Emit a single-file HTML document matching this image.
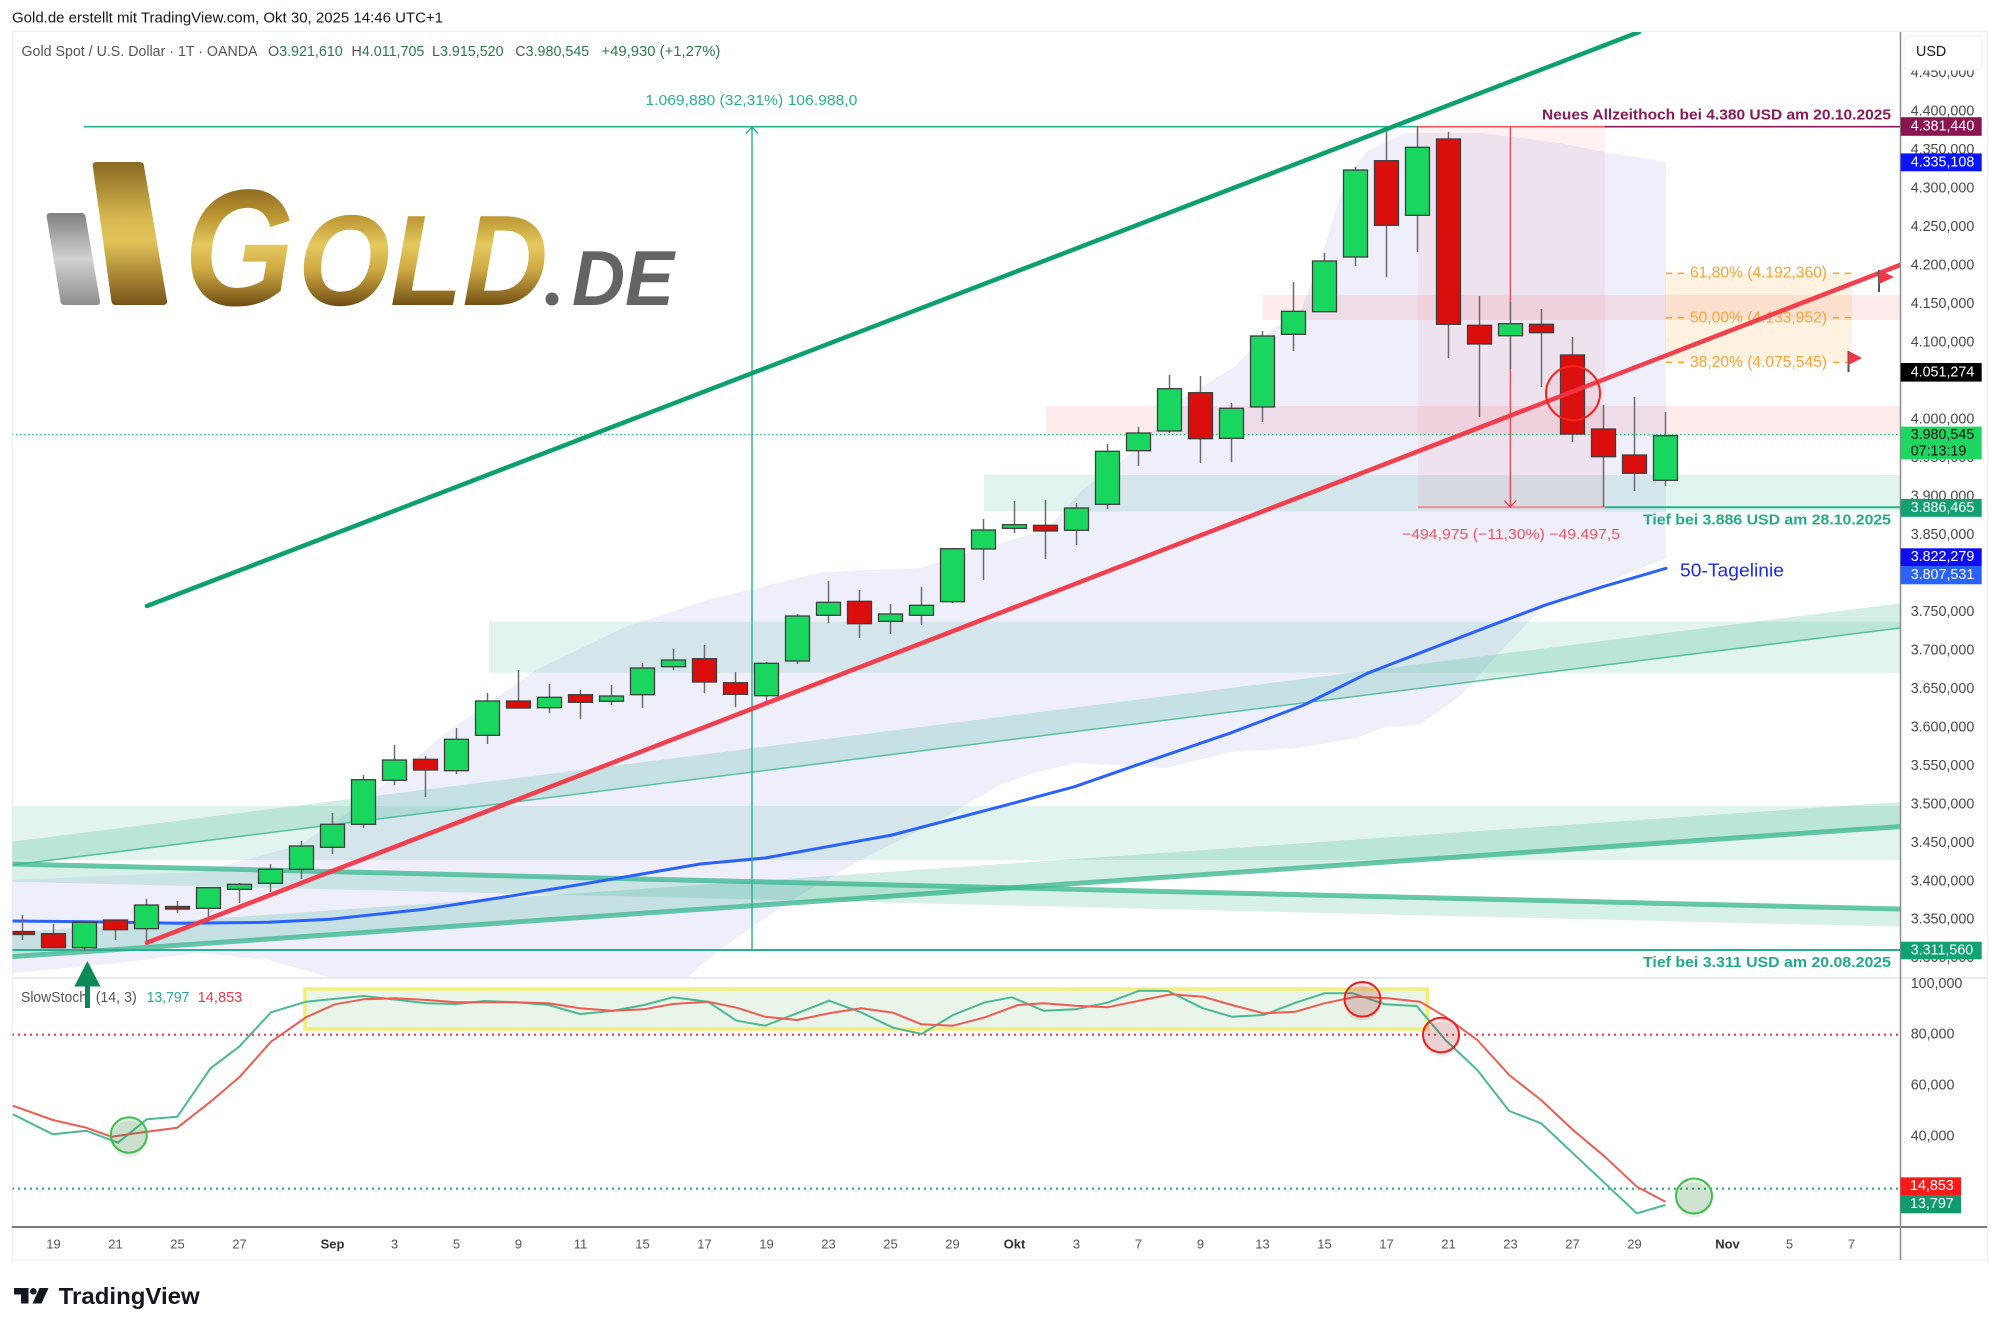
<!DOCTYPE html>
<html><head><meta charset="utf-8"><style>html,body{margin:0;padding:0;background:#fff}svg{display:block}</style></head>
<body>
<svg width="1999" height="1332" viewBox="0 0 1999 1332" xmlns="http://www.w3.org/2000/svg" font-family="'Liberation Sans', Arial, sans-serif">
<defs>
  <clipPath id="mainclip"><rect x="12.5" y="32" width="1888" height="946"/></clipPath>
  <clipPath id="stochclip"><rect x="12.5" y="978" width="1888" height="249"/></clipPath>
  <linearGradient id="gold" gradientUnits="userSpaceOnUse" x1="0" y1="183" x2="0" y2="307">
    <stop offset="0" stop-color="#86641f"/>
    <stop offset="0.25" stop-color="#b8922f"/>
    <stop offset="0.5" stop-color="#e5c95e"/>
    <stop offset="0.7" stop-color="#cfa944"/>
    <stop offset="1" stop-color="#6e4c13"/>
  </linearGradient>
  <linearGradient id="goldbar" gradientUnits="userSpaceOnUse" x1="0" y1="162" x2="0" y2="305">
    <stop offset="0" stop-color="#8a6a22"/>
    <stop offset="0.4" stop-color="#d8b950"/>
    <stop offset="0.55" stop-color="#e2c45a"/>
    <stop offset="1" stop-color="#785318"/>
  </linearGradient>
  <linearGradient id="graybar" gradientUnits="userSpaceOnUse" x1="0" y1="213" x2="0" y2="305">
    <stop offset="0" stop-color="#808080"/>
    <stop offset="0.5" stop-color="#d2d2d2"/>
    <stop offset="1" stop-color="#8e8e8e"/>
  </linearGradient>
</defs>

<rect width="1999" height="1332" fill="#fff"/>

<!-- header -->
<text x="12" y="18.5" font-size="14.3" fill="#131722" dominant-baseline="central" textLength="431" lengthAdjust="spacingAndGlyphs">Gold.de erstellt mit TradingView.com, Okt 30, 2025 14:46 UTC+1</text>

<!-- frame -->
<rect x="12.5" y="31.5" width="1975" height="1228.5" fill="none" stroke="#eceef2" stroke-width="1"/>

<!-- ================= MAIN PANE ================= -->
<g clip-path="url(#mainclip)">
  <!-- lavender envelope -->
  <polygon points="12,880 200,872 300,845 357,806 446,733 536,670 625,627 707,600 823,572 921,568 984,548 1046,530 1082,490 1136,450 1180,400 1234,367 1270,330 1300,313 1322,255 1345,180 1368,150 1406,133 1483,133 1559,143 1605,152 1666,162 1666,558 1600,585 1540,610 1499,653 1459,697 1419,725 1385,727 1356,738 1298,748 1230,752 1166,768 1075,763 1034,773 1000,785 940,820 870,855 800,895 740,935 701,965 680,985 357,985 268,960 201,953 100,965 12,973" fill="#6f70e8" fill-opacity="0.11"/>

  <!-- horizontal green zones -->
  <rect x="489" y="621.7" width="1411" height="51" fill="#22ab82" fill-opacity="0.13"/>
  <rect x="12" y="806" width="1888" height="54" fill="#22ab82" fill-opacity="0.13"/>
  <rect x="984" y="475" width="916" height="36.5" fill="#22ab82" fill-opacity="0.13"/>

  <!-- channel bands -->
  <polygon points="12,841.7 1900,603.5 1900,628 12,865" fill="#22ab82" fill-opacity="0.2"/>
  <line x1="12" y1="865" x2="1900" y2="628" stroke="#3dbb92" stroke-width="1.5" stroke-opacity="0.85"/>
  <polygon points="12,932.4 1900,802 1900,826.6 12,956.7" fill="#22ab82" fill-opacity="0.2"/>
  <line x1="12" y1="956.7" x2="1900" y2="826.6" stroke="#3db890" stroke-opacity="0.78" stroke-width="5"/>
  <polygon points="12,864 1900,909 1900,926.7 12,881.7" fill="#22ab82" fill-opacity="0.18"/>
  <line x1="12" y1="864" x2="1900" y2="909" stroke="#3db890" stroke-opacity="0.78" stroke-width="5"/>

  <!-- pink zones -->
  <rect x="1046" y="406" width="854" height="29.5" fill="#f23645" fill-opacity="0.1"/>
  <rect x="1262.6" y="295" width="637.4" height="25" fill="#f23645" fill-opacity="0.1"/>

  <!-- red measure box fill -->
  <rect x="1418" y="126.7" width="187" height="380.6" fill="#f23645" fill-opacity="0.07"/>

  <!-- fib box -->
  <rect x="1665.6" y="273" width="186.4" height="89.4" fill="#ff9800" fill-opacity="0.12"/>

  <!-- current price dotted line -->
  <line x1="12" y1="434.5" x2="1900" y2="434.5" stroke="#22c07a" stroke-width="1.3" stroke-dasharray="1.5 2.5"/>

  <!-- 50-day MA -->
  <polyline points="12,921 89,921.7 178.6,923.3 268,922.3 330,919.3 424,909.3 513,895.7 603,880.7 700,864 765,858 892,835 1000,806.7 1074.6,786.7 1132,766.7 1229.6,733.3 1304,705 1367.4,673.3 1419,653.3 1488,626.7 1545.4,605 1602.8,586.7 1666,568.3" fill="none" stroke="#2962ff" stroke-width="3" stroke-linejoin="round" stroke-linecap="round"/>

  <!-- measure lines -->
  <line x1="84" y1="126.7" x2="1418" y2="126.7" stroke="#27b08c" stroke-width="1.6"/>
  <line x1="752" y1="127" x2="752" y2="950" stroke="#27b08c" stroke-width="1.4"/>
  <polyline points="746,133.5 752,127.2 758,133.5" fill="none" stroke="#27b08c" stroke-width="1.4"/>
  <line x1="12" y1="950" x2="1900" y2="950" stroke="#27b08c" stroke-width="2"/>
  <line x1="1418" y1="126.7" x2="1605" y2="126.7" stroke="#f7525f" stroke-width="1.6"/>
  <line x1="1605" y1="126.7" x2="1900" y2="126.7" stroke="#8a1a55" stroke-width="1.6"/>
  <line x1="1418" y1="507.3" x2="1605" y2="507.3" stroke="#f08a90" stroke-width="2"/>
  <line x1="1605" y1="507.3" x2="1900" y2="507.3" stroke="#27b08c" stroke-width="2"/>
  <line x1="1510.3" y1="127" x2="1510.3" y2="507" stroke="#f23645" stroke-width="1.2"/>
  <polyline points="1504.3,500.5 1510.3,507 1516.3,500.5" fill="none" stroke="#f23645" stroke-width="1.2"/>

  <!-- candles: wicks -->
  <path d="M22.5 915V940 M53.5 924V948 M84.5 921V951 M115.5 920V940 M146.5 899V942 M177.5 901V913 M208.5 888V917 M239.5 883V903 M270.5 864V892 M301.5 841V879 M332.5 813V854 M363.5 775V828 M394.5 745V785 M425.5 756V797 M456.5 728V774 M487.5 693V744 M518.5 670V708 M549.5 684V713 M580.5 690V719 M611.5 685V705 M642.5 663V708 M673.5 649V670 M704.5 645V693 M735.5 672V707 M766.5 662V702 M797.5 614V664 M828.5 581V623 M859.5 590V638 M890.5 604V634 M921.5 587V625 M952.5 548V603 M983.5 519V580 M1014.5 501V533 M1045.5 500V559 M1076.5 503V545 M1107.5 444V509 M1138.5 427V466 M1169.5 375V433 M1200.5 376V463 M1231.5 403V462 M1262.5 331V422 M1293.5 282V351 M1324.5 253V312 M1355.5 167V266 M1386.5 128V277 M1417.5 127V252 M1448.5 132V358 M1479.5 296V417 M1510.5 302V369 M1541.5 309V387 M1572.5 337V442 M1603.5 405V507 M1634.5 397V491 M1665.5 412V486" stroke="#6b6b6b" stroke-width="1.5" fill="none"/>

  <!-- candles: bodies -->
  <g stroke="#3e3e3e" stroke-width="1.3">
    <g fill="#db0e0e">
      <rect x="10.5" y="931.5" width="24" height="3"/>
      <rect x="41.5" y="933.7" width="24" height="14"/>
      <rect x="103.5" y="920" width="24" height="9.7"/>
      <rect x="165.5" y="906.5" width="24" height="2.6"/>
      <rect x="413.5" y="759.3" width="24" height="10.7"/>
      <rect x="506.5" y="701" width="24" height="7"/>
      <rect x="568.5" y="694.7" width="24" height="7.6"/>
      <rect x="692.5" y="658.7" width="24" height="23.3"/>
      <rect x="723.5" y="682.7" width="24" height="11.6"/>
      <rect x="847.5" y="601.3" width="24" height="22.4"/>
      <rect x="1033.5" y="525.3" width="24" height="5.7"/>
      <rect x="1188.5" y="392.7" width="24" height="46"/>
      <rect x="1374.5" y="160.7" width="24" height="64.6"/>
      <rect x="1436.5" y="139" width="24" height="185.3"/>
      <rect x="1467.5" y="325.3" width="24" height="18.7"/>
      <rect x="1529.5" y="324.3" width="24" height="8.4"/>
      <rect x="1560.5" y="355" width="24" height="79"/>
      <rect x="1591.5" y="429" width="24" height="27.7"/>
      <rect x="1622.5" y="455" width="24" height="18.3"/>
    </g>
    <g fill="#19d65f">
      <rect x="72.5" y="922.3" width="24" height="25.4"/>
      <rect x="134.5" y="905" width="24" height="23.7"/>
      <rect x="196.5" y="887.7" width="24" height="20.6"/>
      <rect x="227.5" y="884.3" width="24" height="5"/>
      <rect x="258.5" y="869.3" width="24" height="14"/>
      <rect x="289.5" y="846" width="24" height="23.3"/>
      <rect x="320.5" y="824.3" width="24" height="23"/>
      <rect x="351.5" y="779.7" width="24" height="44.6"/>
      <rect x="382.5" y="760" width="24" height="20.3"/>
      <rect x="444.5" y="739.3" width="24" height="31.4"/>
      <rect x="475.5" y="701" width="24" height="34.3"/>
      <rect x="537.5" y="697.3" width="24" height="10.4"/>
      <rect x="599.5" y="696" width="24" height="5.3"/>
      <rect x="630.5" y="668" width="24" height="26.7"/>
      <rect x="661.5" y="660" width="24" height="6.7"/>
      <rect x="754.5" y="663.3" width="24" height="32.4"/>
      <rect x="785.5" y="616" width="24" height="45"/>
      <rect x="816.5" y="602.3" width="24" height="13"/>
      <rect x="878.5" y="614" width="24" height="7.3"/>
      <rect x="909.5" y="605.3" width="24" height="10"/>
      <rect x="940.5" y="548.7" width="24" height="53"/>
      <rect x="971.5" y="530" width="24" height="19"/>
      <rect x="1002.5" y="524.7" width="24" height="3.6"/>
      <rect x="1064.5" y="508" width="24" height="22.3"/>
      <rect x="1095.5" y="451.3" width="24" height="53"/>
      <rect x="1126.5" y="433" width="24" height="17.7"/>
      <rect x="1157.5" y="388.7" width="24" height="42.3"/>
      <rect x="1219.5" y="408.3" width="24" height="30"/>
      <rect x="1250.5" y="336" width="24" height="71"/>
      <rect x="1281.5" y="311.3" width="24" height="23"/>
      <rect x="1312.5" y="261" width="24" height="50.7"/>
      <rect x="1343.5" y="170" width="24" height="87"/>
      <rect x="1405.5" y="147.3" width="24" height="68"/>
      <rect x="1498.5" y="323.7" width="24" height="12"/>
      <rect x="1653.5" y="435.7" width="24" height="44.6"/>
    </g>
  </g>

  <!-- fib lines & labels -->
  <g stroke="#ff9800" stroke-opacity="0.85" stroke-width="1.5" stroke-dasharray="6 6">
    <line x1="1666" y1="273.2" x2="1688" y2="273.2"/><line x1="1833" y1="273.2" x2="1855" y2="273.2"/>
    <line x1="1666" y1="317.8" x2="1688" y2="317.8"/><line x1="1833" y1="317.8" x2="1855" y2="317.8"/>
    <line x1="1666" y1="362.4" x2="1688" y2="362.4"/><line x1="1833" y1="362.4" x2="1855" y2="362.4"/>
  </g>
  <g font-size="16" fill="#f9a53c" dominant-baseline="central">
    <text x="1690" y="273.2" textLength="137" lengthAdjust="spacingAndGlyphs">61,80% (4.192,360)</text>
    <text x="1690" y="317.8" textLength="137" lengthAdjust="spacingAndGlyphs">50,00% (4.133,952)</text>
    <text x="1690" y="362.4" textLength="137" lengthAdjust="spacingAndGlyphs">38,20% (4.075,545)</text>
  </g>

  <!-- trend lines -->
  <line x1="146.9" y1="606" x2="1639" y2="32" stroke="#0ca06c" stroke-width="4.5" stroke-linecap="round"/>
  <line x1="146.9" y1="942.7" x2="1900" y2="265" stroke="#f23645" stroke-width="4.5" stroke-linecap="round" stroke-opacity="0.95"/>

  <!-- red circle -->
  <circle cx="1573" cy="393.3" r="27" fill="#f23645" fill-opacity="0.08" stroke="#f5221a" stroke-width="2"/>

  <!-- flags -->
  <line x1="1879" y1="270" x2="1879" y2="292" stroke="#555" stroke-width="2"/>
  <polygon points="1879,270 1894,277 1879,284" fill="#f23645"/>
  <line x1="1848.5" y1="351" x2="1848.5" y2="372" stroke="#555" stroke-width="2"/>
  <polygon points="1848.5,351 1862,358 1848.5,365" fill="#f23645"/>

  <!-- texts in main pane -->
  <text x="645.4" y="101" font-size="14.3" fill="#26b38a" dominant-baseline="central" textLength="212" lengthAdjust="spacingAndGlyphs">1.069,880 (32,31%) 106.988,0</text>
  <text x="1542" y="115" font-size="15" font-weight="bold" fill="#8a1a55" dominant-baseline="central" textLength="349" lengthAdjust="spacingAndGlyphs">Neues Allzeithoch bei 4.380 USD am 20.10.2025</text>
  <text x="1643" y="520" font-size="15" font-weight="bold" fill="#22ab88" dominant-baseline="central" textLength="248" lengthAdjust="spacingAndGlyphs">Tief bei 3.886 USD am 28.10.2025</text>
  <text x="1643" y="962.3" font-size="15" font-weight="bold" fill="#22ab88" dominant-baseline="central" textLength="248" lengthAdjust="spacingAndGlyphs">Tief bei 3.311 USD am 20.08.2025</text>
  <text x="1402" y="535" font-size="14.5" fill="#f7525f" dominant-baseline="central" textLength="218" lengthAdjust="spacingAndGlyphs">−494,975 (−11,30%) −49.497,5</text>
  <text x="1680" y="570" font-size="18.5" fill="#1f2bf0" dominant-baseline="central" textLength="104" lengthAdjust="spacingAndGlyphs">50-Tagelinie</text>

  <!-- GOLD.DE logo -->
  <path d="M50,213 L81.5,213 Q85,213 85.6,217 L100,301 Q100.5,305 96.5,305 L64.5,305 Q61,305 60.5,301 L46.7,217 Q46.3,213 50,213 Z" fill="url(#graybar)"/>
  <path d="M96.5,162 L139.5,162 Q143.5,162 144,166 L167,301 Q167.4,305 163,305 L115.5,305 Q111.8,305 111.4,301 L92.7,166 Q92.4,162 96.5,162 Z" fill="url(#goldbar)"/>
  <text x="184" y="305" font-size="166" font-weight="bold" font-style="italic" fill="url(#gold)" textLength="110" lengthAdjust="spacingAndGlyphs">G</text>
  <text x="298" y="305" font-size="129" font-weight="bold" font-style="italic" fill="url(#gold)" textLength="250" lengthAdjust="spacingAndGlyphs">OLD</text>
  <circle cx="552" cy="299" r="6.5" fill="#646464"/>
  <text x="572" y="305" font-size="78" font-weight="bold" font-style="italic" fill="#646464" textLength="102" lengthAdjust="spacingAndGlyphs">DE</text>

  <!-- legend -->
  <text y="52" font-size="14.3" dominant-baseline="central">
    <tspan x="21.5" fill="#555" textLength="236" lengthAdjust="spacingAndGlyphs">Gold Spot / U.S. Dollar · 1T · OANDA</tspan>
  </text>
  <text y="52" font-size="14.3" dominant-baseline="central"><tspan x="268" fill="#555">O</tspan><tspan fill="#2a7a4b">3.921,610</tspan></text>
  <text y="52" font-size="14.3" dominant-baseline="central"><tspan x="351.5" fill="#555">H</tspan><tspan fill="#2a7a4b">4.011,705</tspan></text>
  <text y="52" font-size="14.3" dominant-baseline="central"><tspan x="432" fill="#555">L</tspan><tspan fill="#2a7a4b">3.915,520</tspan></text>
  <text y="52" font-size="14.3" dominant-baseline="central"><tspan x="515.3" fill="#555">C</tspan><tspan fill="#2a7a4b">3.980,545</tspan></text>
  <text x="601.4" y="52" font-size="14.3" fill="#2a7a4b" dominant-baseline="central" textLength="119" lengthAdjust="spacingAndGlyphs">+49,930 (+1,27%)</text>
</g>

<!-- main pane bottom line -->
<line x1="12" y1="978" x2="1987" y2="978" stroke="#e0e3eb" stroke-width="1.5"/>

<!-- ================= STOCH PANE ================= -->
<g clip-path="url(#stochclip)">
  <rect x="305" y="989" width="1122.6" height="40" fill="#4caf50" fill-opacity="0.13" stroke="#f3ee7a" stroke-width="3.5"/>
  <line x1="12" y1="1034.7" x2="1900" y2="1034.7" stroke="#f23645" stroke-width="2.2" stroke-dasharray="2 4"/>
  <line x1="12" y1="1188.7" x2="1900" y2="1188.7" stroke="#1fb07a" stroke-width="2.2" stroke-dasharray="2 4"/>

  <polyline fill="none" stroke="#4ab894" stroke-width="2" stroke-linejoin="round" points="12.8,1114.3 52.9,1134.3 86.1,1130.7 118,1142.7 146.7,1119.3 177.3,1116.7 210.5,1068.3 239.2,1046.7 271,1012.3 306,1001.7 363.5,996 427,1003.3 456,1004 484.7,1001 516.6,1002.3 548.5,1005 580,1014 612,1011 644,1005 672.8,997.3 708,1001.7 736.6,1020.7 765,1025.7 797,1013.3 829,1000.7 861,1012.3 893,1027.7 921.6,1034 953,1015 985,1002.3 1011.8,997.3 1043.6,1010.7 1075.5,1009.3 1107.4,1002.7 1139.3,990.7 1168,991 1203,1008.3 1231.8,1016.7 1263.7,1015 1295.6,1002.7 1324.3,993.3 1353,993.3 1384.8,1004.3 1416.7,1006 1445.4,1040 1477.3,1070 1509.2,1111 1541.1,1123.3 1573,1153.3 1604.9,1183.3 1636.8,1213.3 1665.4,1205"/>
  <polyline fill="none" stroke="#f05a50" stroke-width="2" stroke-linejoin="round" points="12.8,1105.7 52.9,1120 86.1,1127.7 111.6,1136.7 146.7,1131.7 177.3,1127.7 210.5,1101.7 239.2,1077.3 271,1041.7 306,1017.3 334.8,1004.3 363.5,999.3 395.4,998.3 427,1000 456,1002.3 484.7,1002.3 516.6,1002.3 548.5,1003.3 580,1008.3 612,1010.7 644,1009.3 672.8,1004 708,1001.7 736.6,1007.7 765,1016.7 797,1020 829,1013.3 861,1008.3 893,1012.7 921.6,1024.3 953,1025.7 985,1017.3 1018,1005 1043.6,1003.3 1075.5,1005.7 1107.4,1007.3 1139.3,1000.7 1171,994.3 1203,996.7 1231.8,1005 1263.7,1013.3 1295.6,1011.7 1324.3,1003.3 1356,996.7 1388,998.3 1420,1001.7 1445.4,1016.7 1477.3,1040 1509.2,1075 1541.1,1100 1573,1130 1604.9,1156.7 1636.8,1186.7 1665.4,1201.7"/>

  <!-- circles -->
  <ellipse cx="129" cy="1139" rx="18" ry="18" fill="#000" fill-opacity="0.08"/>
  <ellipse cx="128.8" cy="1135" rx="18" ry="17.7" fill="#4caf50" fill-opacity="0.2" stroke="#3cc04a" stroke-width="2"/>
  <ellipse cx="1362.5" cy="1003" rx="18" ry="17.5" fill="#000" fill-opacity="0.08"/>
  <ellipse cx="1362.5" cy="999.3" rx="18" ry="17.3" fill="#f23645" fill-opacity="0.15" stroke="#f21d1d" stroke-width="2"/>
  <ellipse cx="1441" cy="1039" rx="18" ry="17.5" fill="#000" fill-opacity="0.08"/>
  <ellipse cx="1441" cy="1035" rx="18" ry="17.3" fill="#f23645" fill-opacity="0.15" stroke="#f21d1d" stroke-width="2"/>
  <ellipse cx="1694" cy="1200" rx="18" ry="17.5" fill="#000" fill-opacity="0.07"/>
  <ellipse cx="1694" cy="1196" rx="18" ry="17.5" fill="#4caf50" fill-opacity="0.18" stroke="#3cc04a" stroke-width="2"/>

  <!-- stoch legend -->
  <text x="21" y="998" font-size="14.3" fill="#555" dominant-baseline="central" textLength="66" lengthAdjust="spacingAndGlyphs">SlowStoch</text>
  <text x="95.7" y="998" font-size="14.3" fill="#555" dominant-baseline="central" textLength="41" lengthAdjust="spacingAndGlyphs">(14, 3)</text>
  <text x="146.7" y="998" font-size="14.3" fill="#22ab94" dominant-baseline="central" textLength="42.7" lengthAdjust="spacingAndGlyphs">13,797</text>
  <text x="197.7" y="998" font-size="14.3" fill="#f23645" dominant-baseline="central" textLength="44.6" lengthAdjust="spacingAndGlyphs">14,853</text>
</g>

<!-- green up arrow -->
<polygon points="87.4,961 100.5,986.5 74.3,986.5" fill="#0b8a57"/>
<rect x="85" y="985" width="5" height="23" fill="#0b8a57"/>

<!-- time axis separator -->
<line x1="12" y1="1227" x2="1987" y2="1227" stroke="#7b7b7b" stroke-width="2"/>

<!-- price axis separator -->
<line x1="1900.5" y1="32" x2="1900.5" y2="1260" stroke="#8c8c8c" stroke-width="1.5"/>

<!-- price axis labels -->
<g font-size="14.3" fill="#4a4a4a" dominant-baseline="central">
  <text x="1910.7" y="73.2">4.450,000</text>
  <text x="1910.7" y="111.7">4.400,000</text>
  <text x="1910.7" y="150.2">4.350,000</text>
  <text x="1910.7" y="188.6">4.300,000</text>
  <text x="1910.7" y="227.1">4.250,000</text>
  <text x="1910.7" y="265.6">4.200,000</text>
  <text x="1910.7" y="304.1">4.150,000</text>
  <text x="1910.7" y="342.5">4.100,000</text>
  <text x="1910.7" y="419.5">4.000,000</text>
  <text x="1910.7" y="458">3.950,000</text>
  <text x="1910.7" y="496.5">3.900,000</text>
  <text x="1910.7" y="535">3.850,000</text>
  <text x="1910.7" y="611.9">3.750,000</text>
  <text x="1910.7" y="650.4">3.700,000</text>
  <text x="1910.7" y="688.9">3.650,000</text>
  <text x="1910.7" y="727.3">3.600,000</text>
  <text x="1910.7" y="765.8">3.550,000</text>
  <text x="1910.7" y="804.3">3.500,000</text>
  <text x="1910.7" y="842.8">3.450,000</text>
  <text x="1910.7" y="881.3">3.400,000</text>
  <text x="1910.7" y="919.7">3.350,000</text>
  <text x="1910.7" y="958.2">3.300,000</text>
  <text x="1910.7" y="984">100,000</text>
  <text x="1910.7" y="1034.5">80,000</text>
  <text x="1910.7" y="1085.5">60,000</text>
  <text x="1910.7" y="1136.7">40,000</text>
</g>

<!-- USD box -->
<rect x="1904" y="36" width="78" height="34" rx="4" fill="#fff" stroke="#eceef2" stroke-width="1"/>
<text x="1916" y="52" font-size="14.3" fill="#131722" dominant-baseline="central">USD</text>

<!-- price label boxes -->
<rect x="1900.7" y="117.2" width="81" height="18.6" fill="#8a1450"/>
<rect x="1900.7" y="153.4" width="81" height="17.9" fill="#0a14ff"/>
<rect x="1900.7" y="363" width="81" height="18.6" fill="#000"/>
<rect x="1900.7" y="426.6" width="81" height="32.7" fill="#1ed760"/>
<rect x="1900.7" y="498.9" width="81" height="17.9" fill="#11a172"/>
<rect x="1900.7" y="548.3" width="81" height="17.7" fill="#0c0cf5"/>
<rect x="1900.7" y="566" width="81" height="18.3" fill="#2962ff"/>
<rect x="1900.7" y="941.7" width="81" height="17.6" fill="#11a172"/>
<rect x="1900.5" y="1177.3" width="60.5" height="17.7" fill="#ff1a1a"/>
<rect x="1900.5" y="1195" width="60.5" height="18.3" fill="#12996e"/>
<g font-size="14.3" fill="#fff" dominant-baseline="central">
  <text x="1910.7" y="126.5">4.381,440</text>
  <text x="1910.7" y="162.3">4.335,108</text>
  <text x="1910.7" y="372.3">4.051,274</text>
  <text x="1910.7" y="435" fill="#111">3.980,545</text>
  <text x="1910.7" y="451.5" fill="#111">07:13:19</text>
  <text x="1910.7" y="507.8">3.886,465</text>
  <text x="1910.7" y="557.1">3.822,279</text>
  <text x="1910.7" y="575.1">3.807,531</text>
  <text x="1910.7" y="950.5">3.311,560</text>
  <text x="1910" y="1186.2">14,853</text>
  <text x="1910" y="1204.2">13,797</text>
</g>

<!-- date axis labels -->
<g font-size="13" fill="#555" text-anchor="middle" dominant-baseline="central">
  <text x="53.5" y="1244">19</text>
  <text x="115.5" y="1244">21</text>
  <text x="177.5" y="1244">25</text>
  <text x="239.5" y="1244">27</text>
  <text x="332.5" y="1244" font-weight="bold" fill="#333">Sep</text>
  <text x="394.5" y="1244">3</text>
  <text x="456.5" y="1244">5</text>
  <text x="518.5" y="1244">9</text>
  <text x="580.5" y="1244">11</text>
  <text x="642.5" y="1244">15</text>
  <text x="704.5" y="1244">17</text>
  <text x="766.5" y="1244">19</text>
  <text x="828.5" y="1244">23</text>
  <text x="890.5" y="1244">25</text>
  <text x="952.5" y="1244">29</text>
  <text x="1014.5" y="1244" font-weight="bold" fill="#333">Okt</text>
  <text x="1076.5" y="1244">3</text>
  <text x="1138.5" y="1244">7</text>
  <text x="1200.5" y="1244">9</text>
  <text x="1262.5" y="1244">13</text>
  <text x="1324.5" y="1244">15</text>
  <text x="1386.5" y="1244">17</text>
  <text x="1448.5" y="1244">21</text>
  <text x="1510.5" y="1244">23</text>
  <text x="1572.5" y="1244">27</text>
  <text x="1634.5" y="1244">29</text>
  <text x="1727.5" y="1244" font-weight="bold" fill="#333">Nov</text>
  <text x="1789.5" y="1244">5</text>
  <text x="1851.5" y="1244">7</text>
</g>

<!-- TradingView logo -->
<path d="M14,1288 H28.5 V1303.5 H21 V1294.5 H14 Z" fill="#131722"/>
<circle cx="33.3" cy="1291.3" r="3.3" fill="#131722"/>
<polygon points="39.5,1288 48.5,1288 41.5,1303.5 32.5,1303.5" fill="#131722"/>
<text x="58.7" y="1296" font-size="23" font-weight="bold" fill="#131722" dominant-baseline="central" textLength="141" lengthAdjust="spacingAndGlyphs">TradingView</text>

</svg>
</body></html>
